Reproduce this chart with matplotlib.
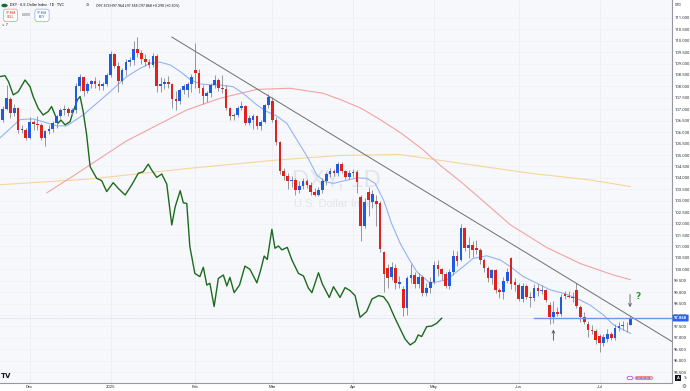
import numpy as np
import pandas as pd
import matplotlib
matplotlib.use('Agg')
import matplotlib.pyplot as plt
import matplotlib.transforms as mtransforms
from matplotlib.patches import Circle

# daily candles, Nov 21 2024 .. Jul 11 2025
opens = [
    106.55, 107.00, 107.45, 106.85, 107.05, 106.10, 106.10,
    105.75, 106.45, 106.35, 106.30, 105.75, 106.05, 106.15, 106.40, 106.70, 106.95, 107.00,
    106.85, 106.95, 108.00, 108.40, 107.80, 108.10, 108.25, 108.10, 108.00, 108.10,
    108.50, 109.40, 108.90, 108.25, 108.70, 109.05, 109.15, 109.65, 109.45, 109.20, 109.05,
    108.95, 109.35, 108.00, 108.10, 108.20, 108.10, 107.45, 107.35, 107.85, 107.85, 108.10,
    108.70, 108.60, 107.95, 107.60, 107.70, 108.05, 108.30, 107.95, 107.90, 107.05,
    106.70, 106.75, 107.05, 107.15, 106.40, 106.55, 106.70, 106.25, 106.45, 107.20,
    107.35, 106.55, 105.55, 104.30, 104.10, 103.85, 103.90, 103.45, 103.65, 103.85, 103.70,
    103.40, 103.25, 103.45, 103.85, 104.15, 104.30, 104.20, 104.60, 104.30, 104.05,
    104.20, 104.25, 103.15, 101.90, 103.40, 102.95, 103.00, 102.90, 100.75, 100.05, 99.65,
    100.05, 99.35, 99.15, 98.30, 99.60, 99.75, 99.35, 99.65, 98.95, 99.20,
    99.45, 100.20, 100.00, 99.80, 99.25, 99.90, 100.60, 100.40, 101.80, 100.95, 101.05,
    100.95, 100.85, 100.40, 100.05, 99.60, 99.95, 99.10, 99.00, 99.50, 100.50, 99.45,
    99.30, 98.70, 99.25, 98.80, 98.75, 99.20, 99.05, 99.10, 98.45, 97.90, 98.15,
    98.05, 98.90, 98.85, 98.80, 99.10, 98.35, 97.90, 97.60, 97.35, 97.30,
    97.10, 96.78, 96.95, 97.15, 97.00, 97.45, 97.52, 97.55, 97.573,
]
highs = [
    107.15, 108.07, 107.55, 107.25, 107.10, 106.30, 106.20,
    106.65, 106.55, 106.70, 106.40, 106.10, 106.30, 106.50, 106.75, 107.05, 107.20, 107.10,
    107.05, 108.15, 108.55, 108.45, 108.20, 108.30, 108.40, 108.30, 108.20, 108.60,
    109.55, 109.45, 109.05, 108.80, 109.20, 109.30, 110.00, 110.17, 109.60, 109.40, 109.20,
    109.45, 109.40, 108.40, 108.35, 108.45, 108.15, 107.80, 107.95, 108.10, 108.20, 108.55,
    109.88, 108.75, 108.05, 107.80, 108.15, 108.50, 108.35, 108.50, 108.05, 107.10,
    106.85, 107.15, 107.35, 107.20, 106.75, 106.80, 106.75, 106.55, 107.25, 107.65,
    107.55, 106.65, 105.60, 104.45, 104.20, 104.10, 104.00, 103.85, 104.00, 103.95, 103.80,
    103.55, 103.60, 104.00, 104.25, 104.45, 104.40, 104.70, 104.70, 104.35, 104.35,
    104.40, 104.35, 103.25, 103.10, 103.60, 103.45, 103.25, 103.00, 100.80, 100.25, 100.30,
    100.25, 99.70, 99.25, 99.70, 100.25, 99.90, 99.85, 99.75, 99.40, 99.65,
    100.35, 100.40, 100.05, 99.90, 100.00, 100.85, 100.80, 101.98, 101.85, 101.40, 101.25,
    101.30, 100.95, 100.50, 100.15, 100.00, 100.00, 99.20, 99.65, 100.05, 100.55, 99.60,
    99.40, 99.40, 99.35, 99.00, 99.35, 99.35, 99.30, 99.15, 98.55, 98.60, 98.35,
    98.90, 99.05, 99.05, 99.00, 99.40, 98.45, 98.15, 97.75, 97.55, 97.40,
    97.15, 97.15, 97.40, 97.25, 97.60, 97.70, 97.75, 97.70, 97.964,
]
lows = [
    106.45, 106.95, 106.60, 106.70, 105.95, 105.95, 105.65,
    105.70, 106.10, 106.10, 105.65, 105.40, 105.90, 106.00, 106.20, 106.60, 106.75, 106.70,
    106.75, 106.85, 107.80, 107.60, 107.70, 107.95, 107.95, 107.85, 107.85, 108.00,
    108.40, 108.80, 107.75, 108.10, 108.50, 108.90, 108.95, 109.30, 109.00, 108.90, 108.80,
    108.85, 107.75, 107.75, 107.90, 107.95, 107.05, 106.95, 107.25, 107.65, 107.55, 107.75,
    107.95, 107.70, 107.25, 107.30, 107.55, 107.95, 107.80, 107.70, 106.95, 106.55,
    106.55, 106.65, 106.95, 106.30, 106.30, 106.12, 106.15, 106.10, 106.40, 107.05,
    106.45, 105.45, 104.15, 103.90, 103.50, 103.60, 103.25, 103.35, 103.50, 103.55, 103.25,
    103.20, 103.20, 103.35, 103.70, 104.05, 104.10, 104.10, 104.20, 103.95, 103.95,
    104.05, 103.35, 101.25, 101.80, 102.35, 102.70, 101.90, 100.75, 99.00, 99.20, 99.55,
    99.15, 99.20, 97.95, 98.00, 99.40, 99.20, 99.20, 98.85, 98.85, 98.95,
    99.35, 99.70, 99.55, 99.20, 99.15, 99.75, 100.15, 100.35, 100.80, 100.50, 100.55,
    100.65, 100.25, 99.90, 99.45, 99.35, 98.95, 98.75, 98.70, 99.40, 99.15, 99.05,
    98.60, 98.55, 98.70, 98.35, 98.60, 98.85, 98.90, 98.55, 97.60, 97.65, 97.95,
    97.95, 98.70, 98.75, 98.55, 98.30, 97.70, 97.60, 97.05, 97.15, 96.75,
    96.40, 96.65, 96.80, 96.90, 96.90, 97.30, 97.35, 97.25, 97.555,
]
closes = [
    107.00, 107.50, 106.85, 107.05, 106.10, 106.15, 105.75,
    106.45, 106.35, 106.30, 105.75, 106.05, 106.15, 106.40, 106.70, 106.95, 107.00, 106.85,
    106.95, 108.00, 108.40, 107.80, 108.10, 108.25, 108.10, 108.00, 108.10, 108.50,
    109.40, 108.90, 108.25, 108.70, 109.05, 109.15, 109.65, 109.45, 109.20, 109.05, 108.95,
    109.35, 108.00, 108.10, 108.20, 108.10, 107.45, 107.35, 107.85, 108.00, 108.10, 108.40,
    108.60, 107.95, 107.60, 107.70, 108.05, 108.30, 107.95, 107.90, 107.05, 106.70,
    106.75, 107.05, 107.15, 106.40, 106.60, 106.70, 106.25, 106.45, 107.20, 107.55,
    106.55, 105.55, 104.30, 104.10, 103.85, 103.90, 103.45, 103.65, 103.85, 103.70, 103.40,
    103.25, 103.45, 103.85, 104.15, 104.30, 104.20, 104.60, 104.30, 104.05, 104.20,
    104.25, 103.80, 101.90, 102.95, 103.05, 103.30, 102.85, 100.90, 99.80, 99.60, 100.10,
    99.40, 99.45, 98.30, 99.60, 99.75, 99.35, 99.65, 98.95, 99.20, 99.45,
    100.20, 100.00, 99.80, 99.25, 99.90, 100.60, 100.35, 101.80, 100.95, 101.05, 100.85,
    100.85, 100.40, 100.05, 99.60, 99.95, 99.10, 99.00, 99.50, 99.90, 99.35, 99.30,
    98.70, 99.25, 98.80, 98.75, 99.20, 99.05, 99.10, 98.65, 97.90, 98.15, 98.05,
    98.80, 98.85, 98.80, 98.75, 98.40, 97.90, 97.70, 97.35, 97.30, 96.90,
    96.78, 97.05, 97.15, 97.00, 97.45, 97.52, 97.55, 97.578, 97.868,
]

# moving averages and compared symbol, sampled along the chart (bar number, value)
ma_fast_bar = [-0.7, 4.5, 7.9, 14.0, 16.6, 20.9, 27.9, 32.2, 35.7, 38.3, 40.9, 43.5, 46.1,
               48.6, 51.2, 54.6, 56.4, 59.8, 62.4, 66.0, 68.6, 71.2, 73.8, 76.4, 79.0, 81.6,
               83.7, 85.9, 89.4, 92.0, 94.5, 96.7, 98.9, 101.0, 103.2, 105.4, 107.5, 111.0,
               115.3, 119.6, 122.2, 125.7, 129.2, 131.8, 135.2, 138.7, 142.2, 145.6, 149.1,
               152.5, 156.0, 158.6, 161.2, 163.0]
ma_fast = [105.75, 106.55, 106.58, 106.28, 106.27, 106.75, 107.77, 108.43, 108.79, 109.01,
           109.06, 108.94, 108.65, 108.31, 108.11, 108.06, 108.06, 107.99, 107.70, 107.19,
           106.90, 106.70, 106.38, 105.66, 104.95, 104.12, 103.83, 103.76, 103.90, 104.00,
           103.98, 103.76, 103.03, 102.00, 101.14, 100.48, 99.90, 99.39, 99.54, 100.12,
           100.48, 100.59, 100.41, 100.12, 99.68, 99.39, 99.10, 98.95, 98.73, 98.44, 98.00,
           97.57, 97.35, 97.20]
ma_mid_bar = [11.5, 18.0, 25.3, 32.0, 38.3, 47.8, 56.4, 66.0, 74.6, 83.2, 87.6, 93.0, 98.0,
              103.5, 109.2, 113.6, 118.8, 124.0, 131.8, 141.3, 150.0, 158.6, 163.0]
ma_mid = [103.35, 104.05, 104.86, 105.60, 106.15, 106.97, 107.48, 107.87, 107.92, 107.70,
          107.43, 107.05, 106.55, 105.95, 105.22, 104.55, 103.85, 103.10, 101.95, 100.95,
          100.25, 99.75, 99.55]
ma_slow_bar = [-0.7, 22.7, 48.6, 71.2, 87.6, 103.2, 118.8, 137.0, 152.5, 163.0]
ma_slow = [103.70, 103.95, 104.42, 104.78, 104.98, 105.02, 104.64, 104.20, 103.91, 103.62]

cmp_bar = [-0.7, 0.6, 1.5, 2.75, 4.05, 5.8, 7.1, 7.9, 9.2, 10.5, 11.8, 12.7, 13.6, 14.4, 15.1,
           16.2, 17.5, 18.3, 19.4, 20.1, 20.9, 21.8, 22.7, 24.4, 25.7, 27.0, 28.7, 30.0, 31.8,
           33.5, 35.2, 36.5, 37.8, 38.7, 40.0, 41.3, 42.6, 43.9, 44.8, 46.1, 46.9, 47.8, 48.6,
           49.9, 51.2, 52.1, 53.0, 53.8, 54.9, 56.0, 57.3, 58.2, 59.0, 60.1, 61.5, 62.9, 64.2,
           66.0, 67.0, 67.9, 68.7, 69.9, 70.7, 71.6, 72.5, 73.9, 75.1, 76.8, 78.1, 79.4, 80.3,
           82.0, 83.0, 84.8, 85.9, 87.6, 88.9, 90.2, 91.5, 92.8, 94.5, 95.9, 97.6, 98.9, 100.2,
           101.9, 103.2, 104.5, 105.8, 107.1, 107.9, 108.8, 110.1, 111.4, 112.7, 114.0]
cmp_val = [108.43, 108.47, 108.21, 107.63, 107.77, 108.28, 107.99, 107.56, 107.05, 106.75,
           106.90, 107.12, 106.75, 106.39, 106.53, 106.32, 106.46, 106.90, 107.41, 107.56,
           106.90, 105.88, 104.49, 103.98, 103.88, 103.40, 103.79, 103.54, 103.25, 103.69,
           104.20, 104.27, 104.60, 104.34, 104.02, 104.17, 103.73, 101.94, 102.74, 103.44,
           102.91, 102.88, 100.99, 99.82, 99.68, 100.09, 99.31, 99.39, 98.37, 99.60, 99.75,
           99.27, 99.65, 98.98, 99.31, 100.14, 100.00, 99.41, 99.97, 100.58, 100.43, 101.75,
           100.92, 101.02, 100.85, 100.96, 100.41, 99.82, 99.71, 99.17, 98.98, 99.85, 99.36,
           98.77, 99.24, 98.77, 99.20, 99.07, 98.85, 97.90, 98.15, 98.70, 98.85, 98.80, 98.50,
           97.85, 97.40, 96.95, 96.69, 96.84, 97.13, 97.06, 97.49, 97.52, 97.64, 97.86]

trend_bar = [43.9, 173.8]
trend_val = [110.16, 96.84]
support_level = 97.85
last_price = 97.868
month_labels = ['Dec', '2025', 'Feb', 'Mar', 'Apr', 'May', 'Jun', 'Jul']

W, H = 690, 391
UP, DOWN, WICK = '#1f5be0', '#e2201c', '#85878f'


def fpx(x, y):
    """pixel -> figure fraction"""
    return x / W, 1 - y / H


dates = pd.bdate_range('2024-11-21', '2025-07-11')
dates = dates[~dates.isin(pd.to_datetime(['2024-12-25', '2025-01-01', '2025-04-18']))]
months = pd.Series(dates.to_period('M'))
month_pos = list(np.flatnonzero(months.ne(months.shift()).values)[1:])

o, h, l, c = map(np.array, (opens, highs, lows, closes))
x = np.arange(len(o))
up = c >= o

fig = plt.figure(figsize=(W / 100, H / 100), dpi=100, facecolor='white')
ax = fig.add_axes([0, 8.3 / H, 672 / W, 382.7 / H])
ax.set_facecolor('#f7f8fc')
ax.set_xlim(-0.7, 173.8)
ax.set_ylim(95.04, 111.78)

# grid
for m in month_pos:
    ax.axvline(m, color='#eceef4', lw=0.6, zorder=0)
yt = np.arange(95.5, 111.01, 0.5)
for v in yt:
    ax.axhline(v, color='#eef0f5', lw=0.5, zorder=0)

# watermark
ax.text(0.5, 0.527, 'DXY, 1D', transform=ax.transAxes, ha='center', va='center',
        fontsize=17, family='Liberation Sans', color='#e3e5ec', zorder=0.5)
ax.text(0.5, 0.467, 'U.S. Dollar Index', transform=ax.transAxes, ha='center', va='center',
        fontsize=8, family='Liberation Sans', color='#e3e5ec', zorder=0.5)

# moving averages + comparison line
ax.plot(ma_slow_bar, ma_slow, color='#f8d49c', lw=0.8, zorder=1.5)
ax.plot(ma_mid_bar, ma_mid, color='#f4a2a2', lw=0.8, zorder=1.5)
ax.plot(ma_fast_bar, ma_fast, color='#94b3f3', lw=0.8, zorder=1.5)
ax.plot(cmp_bar, cmp_val, color='#1d6a1d', lw=1.0, zorder=1.6)

# last price dotted line
ax.axhline(last_price, color='#8fa8e8', lw=0.4, ls=(0, (1, 2)), zorder=1)

# candles
ax.vlines(x, l, h, color=WICK, lw=0.6, zorder=2)
body = np.maximum(np.abs(c - o), 0.03)
ax.bar(x, body, bottom=np.minimum(o, c), width=0.7,
       color=np.where(up, UP, DOWN), linewidth=0, zorder=3)

# drawings
ax.plot(trend_bar, trend_val, color='#6e6e6e', lw=0.7, zorder=4)
ax.plot([138, 173.8], [support_level, support_level], color='#6d93ec', lw=1.0, zorder=4)
ax.annotate('', xy=(143.0, 97.49), xytext=(143.0, 96.77),
            arrowprops=dict(arrowstyle='->', color='#555555', lw=0.6, mutation_scale=5))
ax.annotate('', xy=(162.9, 98.22), xytext=(162.9, 99.02),
            arrowprops=dict(arrowstyle='->', color='#555555', lw=0.6, mutation_scale=5))
ax.text(165.1, 98.8, '?', color='#2e9a2e', fontsize=6.5, fontweight='bold',
        ha='center', va='center', zorder=5)

# axes look
for s in ('top', 'left'):
    ax.spines[s].set_visible(False)
for s in ('right', 'bottom'):
    ax.spines[s].set_color('#9598a1')
    ax.spines[s].set_linewidth(0.8)
ax.yaxis.tick_right()
ax.set_yticks(yt)
ax.set_yticklabels(['%.3f' % v for v in yt])
ax.set_xticks(month_pos)
ax.set_xticklabels(month_labels)
ax.tick_params(length=0, labelsize=3, colors='#2a2e39', pad=1.6)
for t in ax.get_xticklabels() + ax.get_yticklabels():
    t.set_family('Roboto')

# last price tag on the scale
trans = mtransforms.blended_transform_factory(ax.transAxes, ax.transData)
ax.text(1.003, last_price, '97.868', transform=trans, ha='left', va='center', fontsize=3,
        family='Roboto', color='white', fontweight='bold', clip_on=False, zorder=6,
        bbox=dict(boxstyle='round,pad=0.35,rounding_size=0.2', fc='#2962ff', ec='none'))

# legend row
fig.patches.append(Circle(fpx(4.5, 5.5), 3.2 / W, transform=fig.transFigure,
                          fc='#1b6e3a', ec='none'))
fig.text(*fpx(9.5, 5.5), 'DXY · U.S. Dollar Index · 1D · TVC', fontsize=2.7,
         family='Roboto', color='#131722', va='center')
fig.text(*fpx(87, 5.5), '⊖', fontsize=3, family='DejaVu Sans', color='#555555',
         va='center', ha='center')
fig.text(*fpx(96, 5.5), 'O97.573 H97.964 L97.555 C97.868 +0.290 (+0.30%)', fontsize=2.6,
         family='Roboto', color='#131722', va='center')
fig.text(*fpx(10.5, 15.3), '97.868\nSELL', fontsize=2.4, family='Roboto', color='#e2201c',
         ha='center', va='center', linespacing=1.1,
         bbox=dict(boxstyle='round,pad=0.6,rounding_size=0.8', fc='white', ec='#f08a8a', lw=0.5))
fig.text(*fpx(26.5, 15.3), '0.000', fontsize=2.4, family='Roboto', color='#555555',
         ha='center', va='center')
fig.text(*fpx(42.0, 15.3), '97.868\nBUY', fontsize=2.4, family='Roboto', color='#1f5be0',
         ha='center', va='center', linespacing=1.1,
         bbox=dict(boxstyle='round,pad=0.6,rounding_size=0.8', fc='white', ec='#8fa8f0', lw=0.5))
fig.text(*fpx(5, 25), '∨ 7', fontsize=2.5, family='DejaVu Sans', color='#333333',
         va='center', ha='center')

# scale header / footer bits
fig.text(*fpx(678, 5), 'USD', fontsize=2.6, family='Roboto', color='#2a2e39',
         va='center', ha='center')
fig.text(*fpx(678, 378), 'A', fontsize=3, family='Roboto', color='white', fontweight='bold',
         va='center', ha='center', bbox=dict(boxstyle='square,pad=0.3', fc='#131722', ec='none'))
fig.text(*fpx(685, 378), '%', fontsize=3, family='Roboto', color='#2a2e39',
         va='center', ha='center')
fig.text(*fpx(684, 387), '⚙', fontsize=4, family='DejaVu Sans', color='#555555',
         va='center', ha='center')
fig.text(*fpx(6.5, 376), 'TV', fontsize=5, family='DejaVu Sans', color='#131722',
         fontweight='heavy', va='center', ha='center')

# event markers at the bottom right
fig.patches.append(Circle(fpx(630, 378), 3.0 / W, transform=fig.transFigure,
                          fc='white', ec='#a35bd6', lw=0.6))
for k, ex in enumerate([638, 642, 646, 650]):
    fig.patches.append(Circle(fpx(ex, 378), 3.0 / W, transform=fig.transFigure,
                              fc='#f8c6cf', ec='#ec6b80', lw=0.5, zorder=2 + k))
    fig.patches.append(Circle(fpx(ex - 0.7, 378), 1.3 / W, transform=fig.transFigure,
                              fc='#3b6fe8', ec='none', zorder=2 + k))

fig.savefig('out.png', dpi=100, facecolor='white')
